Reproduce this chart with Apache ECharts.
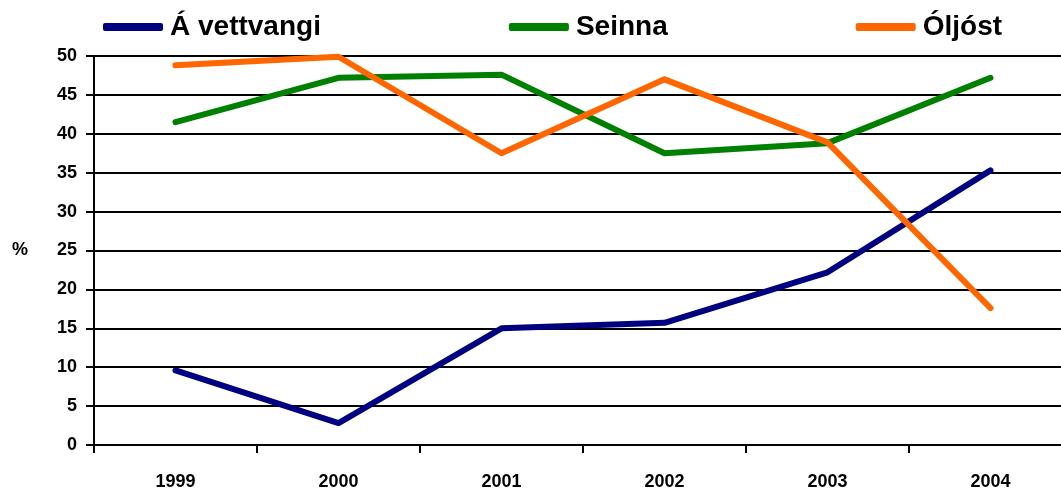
<!DOCTYPE html>
<html>
<head>
<meta charset="utf-8">
<script src="https://cdn.jsdelivr.net/npm/echarts@6/dist/echarts.min.js"></script>
<style>
  html, body { margin: 0; padding: 0; background: #fff; }
  #chart { width: 1061px; height: 490px; }
</style>
</head>
<body>
<div id="chart"></div>
<script>
const years = ['1999', '2000', '2001', '2002', '2003', '2004'];
const aVettvangi = [9.6, 2.8, 15.0, 15.7, 22.2, 35.3];
const seinna = [41.5, 47.2, 47.6, 37.5, 38.8, 47.2];
const oljost = [48.8, 49.9, 37.5, 47.0, 38.9, 17.6];

const font = 'Liberation Sans, Arial, sans-serif';

function lineSeries(name, data, color) {
    return {
        name: name,
        type: 'line',
        data: data,
        symbol: 'none',
        lineStyle: { color: color, width: 6, cap: 'round', join: 'round' },
        itemStyle: { color: color }
    };
}

const chart = echarts.init(document.getElementById('chart'));
chart.setOption({
    animation: false,
    textStyle: { fontFamily: font },
    legend: {
        left: 98,
        top: 8,
        itemWidth: 60,
        itemHeight: 8,
        itemGap: 188,
        icon: 'roundRect',
        textStyle: { fontSize: 28, fontWeight: 'bold', color: '#000', fontFamily: font, padding: [12, 0, 0, 2] }
    },
    // grid is wider than the canvas, the last column is cut at the right edge
    grid: { left: 94, width: 978, top: 56, bottom: 45, outerBoundsMode: 'none' },
    xAxis: {
        type: 'category',
        data: years,
        boundaryGap: true,
        axisLine: { lineStyle: { color: '#000', width: 2 } },
        axisTick: { show: true, length: 8, lineStyle: { color: '#000', width: 2 } },
        axisLabel: { fontSize: 18, fontWeight: 'bold', color: '#000', margin: 28 },
        splitLine: { show: false }
    },
    yAxis: {
        type: 'value',
        min: 0,
        max: 50,
        interval: 5,
        name: '%',
        nameLocation: 'middle',
        nameRotate: 0,
        nameGap: 66,
        nameTextStyle: { fontSize: 18, fontWeight: 'bold', color: '#000', padding: [10, 0, 0, 0] },
        axisLine: { show: true, lineStyle: { color: '#000', width: 2 } },
        axisTick: { show: true, length: 8, lineStyle: { color: '#000', width: 2 } },
        axisLabel: { fontSize: 18, fontWeight: 'bold', color: '#000', margin: 17 },
        splitLine: { lineStyle: { color: '#000', width: 2 } }
    },
    series: [
        lineSeries('Á vettvangi', aVettvangi, '#000080'),
        lineSeries('Seinna', seinna, '#008000'),
        lineSeries('Óljóst', oljost, '#ff6600')
    ]
});
</script>
</body>
</html>
